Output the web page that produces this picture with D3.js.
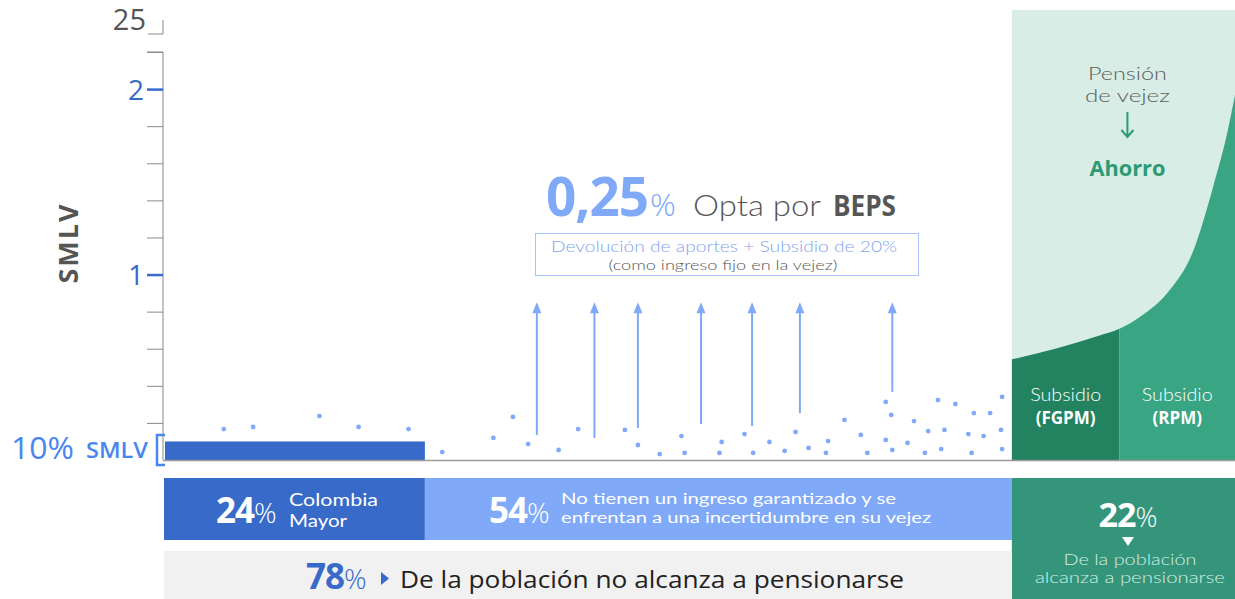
<!DOCTYPE html>
<html>
<head>
<meta charset="utf-8">
<script src="https://cdn.jsdelivr.net/npm/d3@7"></script>
<style>
  body { margin: 0; background: #fff; }
  svg { display: block; }
  text { font-family: "Open Sans", "Noto Sans", sans-serif; }
  .thin { font-family: "Lato", "Open Sans", sans-serif; font-weight: 300; }
  .lato { font-family: "Lato", "Open Sans", sans-serif; }
</style>
</head>
<body>
<div id="chart"></div>
<script>
// population share (%) of each group, left to right
const groups = ['Colombia Mayor', 'Sin ingreso garantizado', 'Pensionados'];
const shares = [24, 54, 22];
const noPension = 78;

// y axis (SMLV)
const yTicks = [0.2, 0.4, 0.6, 0.8, 1, 1.2, 1.4, 1.6, 1.8, 2, 2.2];
const yLabels = [1, 2];
const brokenTop = '25';
const colombiaMayorLevel = 0.1;

// scattered incomes: [population %, SMLV]
const leftDots = [[5.5, 0.167], [8.2, 0.178], [14.3, 0.237], [17.9, 0.178], [22.5, 0.167]];
const midDots = [
  [25.6, 0.043], [30.3, 0.119], [32.1, 0.232], [33.5, 0.086], [36.3, 0.054], [38.1, 0.167],
  [42.4, 0.162], [43.6, 0.081], [45.6, 0.032], [47.6, 0.129], [47.9, 0.038], [51.3, 0.097],
  [51.1, 0.038], [53.4, 0.140], [54.2, 0.038], [55.7, 0.097], [57.1, 0.049], [58.1, 0.151],
  [59.3, 0.065], [61.1, 0.102], [60.9, 0.038], [62.6, 0.216], [64.1, 0.135], [64.7, 0.038],
  [66.4, 0.313], [66.9, 0.243], [66.4, 0.108], [67.0, 0.054], [68.4, 0.092], [69.0, 0.210],
  [70.0, 0.038], [70.3, 0.156], [71.2, 0.323], [71.5, 0.059], [71.8, 0.162], [72.8, 0.302],
  [74.0, 0.140], [74.5, 0.253], [74.3, 0.038], [75.4, 0.129], [76.0, 0.253], [77.1, 0.340],
  [77.0, 0.162], [77.1, 0.059]
];

// BEPS arrows
const arrowX = [34.3, 39.6, 43.6, 49.4, 54.1, 58.5, 67.0];
const arrowFrom = [0.135, 0.119, 0.173, 0.194, 0.183, 0.253, 0.367];
const arrowTo = 0.85;

// pension curve (savings on top of subsidy)
const curveX = [77.8, 82, 86, 88, 90, 92.3, 94.7, 96.5, 97.8, 98.5, 100];
const curveY = [0.54, 0.60, 0.67, 0.71, 0.78, 0.90, 1.13, 1.47, 1.76, 1.96, 2.4];
const subsidies = ['FGPM', 'RPM'];
const subsidySplit = [78, 87.9, 100];

const W = 1235, H = 599;
const base = 460;

const svg = d3.select('#chart').append('svg')
  .attr('width', W)
  .attr('height', H);

const x = d3.scaleLinear().domain([0, 100]).range([164, 1251]);
const y = d3.scaleLinear().domain([0, 2.2]).range([base, 52]);

const dark = '#386bc9';
const light = '#80a9f7';

// text helper; w stretches the text to the reference width (wide fonts)
function label(px, py, str, opts) {
  const t = svg.append('text')
    .attr('x', px).attr('y', py)
    .attr('fill', opts.fill || '#fff')
    .attr('font-size', opts.size || 16)
    .attr('text-anchor', opts.anchor || 'start')
    .text(str);
  if (opts.cls) t.attr('class', opts.cls);
  if (opts.weight) t.attr('font-weight', opts.weight);
  if (opts.w) t.attr('textLength', opts.w).attr('lengthAdjust', 'spacingAndGlyphs');
  return t;
}

// --- green pension panel ---
svg.append('rect')
  .attr('x', x(noPension)).attr('y', 10)
  .attr('width', W - x(noPension)).attr('height', base - 10)
  .attr('fill', '#d7ede5');

const area = d3.area()
  .x((d) => x(d[0]))
  .y0(y(0))
  .y1((d) => y(d[1]))
  .curve(d3.curveMonotoneX);
const pts = curveX.map((v, i) => [v, curveY[i]]);
const subColors = ['#238260', '#39a583'];

subsidies.forEach((s, i) => {
  svg.append('clipPath').attr('id', 'clip' + i)
    .append('rect')
    .attr('x', x(subsidySplit[i])).attr('y', 0)
    .attr('width', x(subsidySplit[i + 1]) - x(subsidySplit[i])).attr('height', base);
  svg.append('path')
    .datum(pts)
    .attr('d', area)
    .attr('clip-path', `url(#clip${i})`)
    .attr('fill', subColors[i]);
  const cx = (x(subsidySplit[i]) + Math.min(x(subsidySplit[i + 1]), W)) / 2;
  label(cx, 401, 'Subsidio', { cls: 'thin', size: 18, anchor: 'middle', w: 71 });
  label(cx, 424, `(${s})`, { size: 17, weight: 700, anchor: 'middle' });
});

const gx = (x(noPension) + W) / 2 + 4;
label(gx, 80, 'Pensión', { cls: 'thin', fill: '#5e5e5e', size: 18, anchor: 'middle', w: 79 });
label(gx, 102, 'de vejez', { cls: 'thin', fill: '#5e5e5e', size: 18, anchor: 'middle', w: 85 });
svg.append('path')
  .attr('d', `M${gx},112 V137 M${gx - 6},130 L${gx},137 L${gx + 6},130`)
  .attr('stroke', '#2e9a73').attr('stroke-width', 2).attr('fill', 'none');
label(gx, 176, 'Ahorro', { fill: '#2e9a73', size: 21, weight: 700, anchor: 'middle', w: 76 });

// --- y axis ---
const yAxis = d3.axisLeft(y)
  .tickValues(yTicks)
  .tickSize(16)
  .tickFormat((d) => yLabels.includes(d) ? d : '');

const ga = svg.append('g')
  .attr('transform', 'translate(163,0)')
  .call(yAxis);
ga.select('.domain').attr('stroke', '#8a8a8a').attr('d', `M-16,${y(2.2)}H0V${base}`);
ga.selectAll('.tick line').attr('stroke', (d) => yLabels.includes(d) ? dark : '#8a8a8a')
  .attr('stroke-width', (d) => yLabels.includes(d) ? 2.5 : 1);
ga.selectAll('.tick text')
  .attr('fill', dark).attr('font-size', 28).attr('font-weight', 500)
  .attr('x', -19).attr('dy', '0.36em');

// broken top value
svg.append('path')
  .attr('d', 'M148,34H163V20')
  .attr('stroke', '#8a8a8a').attr('fill', 'none');
label(146, 30, brokenTop, { fill: '#555', size: 29, weight: 500, anchor: 'end' });

svg.append('text')
  .attr('transform', 'translate(78,243) rotate(-90)')
  .attr('text-anchor', 'middle')
  .attr('fill', '#555').attr('font-size', 27).attr('font-weight', 700)
  .attr('letter-spacing', 2)
  .text('SMLV');

// --- Colombia Mayor level ---
svg.append('rect')
  .attr('x', x(0) + 1).attr('y', y(colombiaMayorLevel))
  .attr('width', x(shares[0]) - x(0) - 1).attr('height', y(0) - y(colombiaMayorLevel))
  .attr('fill', dark);
svg.append('path')
  .attr('d', `M165,435H157V465H165`)
  .attr('stroke', '#4a86f0').attr('stroke-width', 2.5).attr('fill', 'none');
label(11, 459, '10%', { fill: '#4a86f0', size: 31, weight: 500, w: 63 });
label(86, 458, 'SMLV', { fill: '#4a86f0', size: 22, weight: 600, w: 62 });

// baseline
svg.append('line')
  .attr('x1', 163).attr('x2', W).attr('y1', base + 0.5).attr('y2', base + 0.5)
  .attr('stroke', '#9a9a9a').attr('stroke-width', 1.5);

// --- dots ---
svg.append('g').selectAll('circle')
  .data(leftDots.concat(midDots))
  .enter()
  .append('circle')
  .attr('cx', (d) => x(d[0]))
  .attr('cy', (d) => y(d[1]))
  .attr('r', 2.4)
  .attr('fill', light);

// --- arrows ---
const arr = svg.append('g').selectAll('g')
  .data(arrowX)
  .enter()
  .append('g');
arr.append('line')
  .attr('x1', (d) => x(d)).attr('x2', (d) => x(d))
  .attr('y1', (d, i) => y(arrowFrom[i])).attr('y2', y(arrowTo) + 8)
  .attr('stroke', light).attr('stroke-width', 2);
arr.append('path')
  .attr('d', (d) => `M${x(d)},${y(arrowTo)} l-4.5,11 h9 z`)
  .attr('fill', light);

// --- BEPS annotation ---
const beps = svg.append('text')
  .attr('x', 546).attr('y', 216);
beps.append('tspan').attr('fill', light).attr('font-size', 53).attr('font-weight', 700)
  .attr('letter-spacing', -1).text('0,25');
beps.append('tspan').attr('fill', light).attr('font-size', 32).attr('font-weight', 300)
  .attr('dx', 2).text('%');
label(693, 216, 'Opta por', { cls: 'thin', fill: '#555', size: 30, w: 128 });
label(833, 216, 'BEPS', { fill: '#555', size: 28, weight: 700, w: 63 });

svg.append('rect')
  .attr('x', 535.5).attr('y', 233.5).attr('width', 383).attr('height', 42)
  .attr('fill', 'none').attr('stroke', '#a9c4f8');
label(724, 252, 'Devolución de aportes + Subsidio de 20%',
  { cls: 'thin', fill: '#7fa4ef', size: 16, anchor: 'middle', w: 346 });
label(723, 270, '(como ingreso fijo en la vejez)',
  { cls: 'thin', fill: '#555', size: 14.5, anchor: 'middle', w: 229 });

// --- bottom bands ---
let acc = 0;
const bands = shares.map((s) => { const b = [acc, acc + s]; acc += s; return b; });
const bandColors = [dark, light, '#34957a'];

svg.append('g').selectAll('rect')
  .data(bands)
  .enter()
  .append('rect')
  .attr('x', (d) => x(d[0]))
  .attr('y', 478)
  .attr('width', (d) => x(d[1]) - x(d[0]))
  .attr('height', (d, i) => i === 2 ? H - 478 : 62)
  .attr('fill', (d, i) => bandColors[i]);

svg.append('rect')
  .attr('x', x(0)).attr('y', 551)
  .attr('width', x(noPension) - x(0)).attr('height', H - 551)
  .attr('fill', '#f1f1f1');

function pct(px, py, v, size, fill) {
  const t = svg.append('text').attr('x', px).attr('y', py).attr('fill', fill || '#fff');
  t.append('tspan').attr('font-size', size).attr('font-weight', 700).attr('letter-spacing', -1).text(v);
  t.append('tspan').attr('font-size', size * 0.8).attr('font-weight', 300).text('%');
  return t;
}

pct(216, 523, shares[0], 35);
label(289, 506, 'Colombia', { cls: 'lato', size: 17, w: 89 });
label(289, 527, 'Mayor', { cls: 'lato', size: 17, w: 58 });

pct(489, 523, shares[1], 35);
label(561, 504, 'No tienen un ingreso garantizado y se', { cls: 'lato', size: 15.5, w: 335 });
label(561, 523, 'enfrentan a una incertidumbre en su vejez', { cls: 'lato', size: 15.5, w: 370 });

pct(1128, 527, shares[2], 34).attr('text-anchor', 'middle');
svg.append('path')
  .attr('d', 'M1122,537 h12 l-6,9 z')
  .attr('fill', '#fff');
label(1130, 565, 'De la población', { cls: 'thin', fill: '#d3efe4', size: 15, anchor: 'middle', w: 133 });
label(1130, 583, 'alcanza a pensionarse', { cls: 'thin', fill: '#d3efe4', size: 15, anchor: 'middle', w: 190 });

pct(306, 589, noPension, 35, dark);
svg.append('path')
  .attr('d', 'M381,572 l8,6.5 l-8,6.5 z')
  .attr('fill', dark);
label(400, 588, 'De la población no alcanza a pensionarse', { fill: '#222', size: 23, w: 504 });
</script>
</body>
</html>
